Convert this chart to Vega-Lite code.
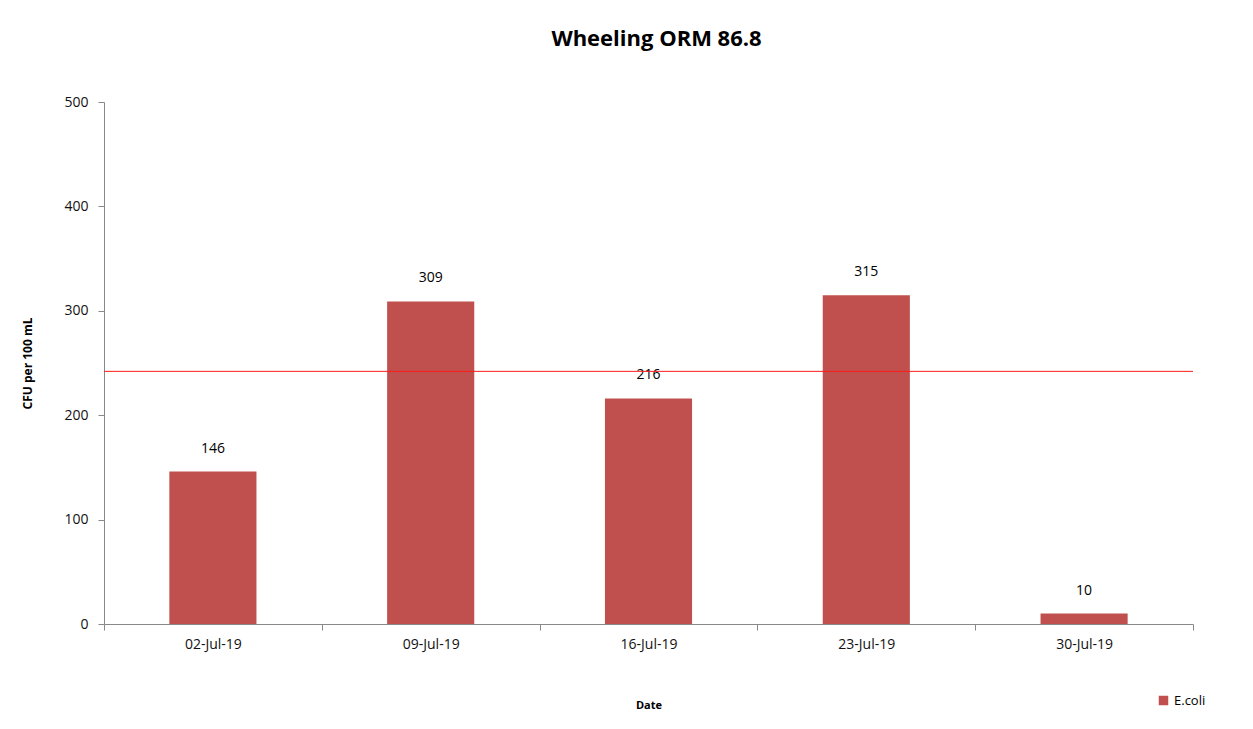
{
  "$schema": "https://vega.github.io/schema/vega-lite/v6.json",
  "width": 1089,
  "height": 522,
  "autosize": {"type": "none"},
  "padding": {"left": 104, "top": 102, "right": 60, "bottom": 105},
  "background": "white",
  "config": {
    "view": {"stroke": null},
    "font": "Open Sans"
  },
  "title": {
    "text": "Wheeling ORM 86.8",
    "fontSize": 22,
    "fontWeight": "bold",
    "font": "Open Sans",
    "color": "#000000",
    "anchor": "middle",
    "dx": 8,
    "offset": 44
  },
  "datasets": {
    "samples": [
      {"date": "02-Jul-19", "ecoli": 146, "series": "E.coli"},
      {"date": "09-Jul-19", "ecoli": 309, "series": "E.coli"},
      {"date": "16-Jul-19", "ecoli": 216, "series": "E.coli"},
      {"date": "23-Jul-19", "ecoli": 315, "series": "E.coli"},
      {"date": "30-Jul-19", "ecoli": 10, "series": "E.coli"}
    ],
    "limit": [{"limit": 242}]
  },
  "layer": [
    {
      "data": {"name": "samples"},
      "mark": {"type": "bar", "width": {"band": 0.4}},
      "encoding": {
        "x": {
          "field": "date",
          "type": "ordinal",
          "sort": null,
          "scale": {"paddingInner": 0, "paddingOuter": 0},
          "axis": {
            "title": "Date",
            "titleFontSize": 11,
            "titleFontWeight": "bold",
            "titleColor": "#000000",
            "titlePadding": 48,
            "labelAngle": 0,
            "labelFontSize": 14,
            "labelColor": "#111111",
            "labelPadding": 7,
            "tickBand": "extent",
            "tickSize": 6,
            "tickColor": "#888888",
            "domainColor": "#888888",
            "grid": false
          }
        },
        "y": {
          "field": "ecoli",
          "type": "quantitative",
          "scale": {"domain": [0, 500]},
          "axis": {
            "title": "CFU per 100 mL",
            "titleFontSize": 12,
            "titleFontWeight": "bold",
            "titleColor": "#000000",
            "titlePadding": 29,
            "values": [0, 100, 200, 300, 400, 500],
            "labelFontSize": 14,
            "labelColor": "#111111",
            "labelPadding": 10,
            "tickSize": 6,
            "tickColor": "#888888",
            "domainColor": "#888888",
            "grid": false
          }
        },
        "color": {
          "field": "series",
          "type": "nominal",
          "scale": {"domain": ["E.coli"], "range": ["#C0504D"]},
          "legend": {
            "title": null,
            "orient": "none",
            "legendX": 1053,
            "legendY": 592,
            "symbolType": "square",
            "symbolSize": 90,
            "labelFontSize": 13,
            "labelColor": "#000000"
          }
        }
      }
    },
    {
      "data": {"name": "samples"},
      "mark": {"type": "text", "baseline": "bottom", "dy": -16, "fontSize": 14, "color": "#000000"},
      "encoding": {
        "x": {"field": "date", "type": "ordinal", "sort": null},
        "y": {"field": "ecoli", "type": "quantitative"},
        "text": {"field": "ecoli", "type": "quantitative"}
      }
    },
    {
      "data": {"name": "limit"},
      "mark": {"type": "rule", "color": "#FF1A1A", "strokeWidth": 1},
      "encoding": {
        "y": {"field": "limit", "type": "quantitative"}
      }
    }
  ]
}
